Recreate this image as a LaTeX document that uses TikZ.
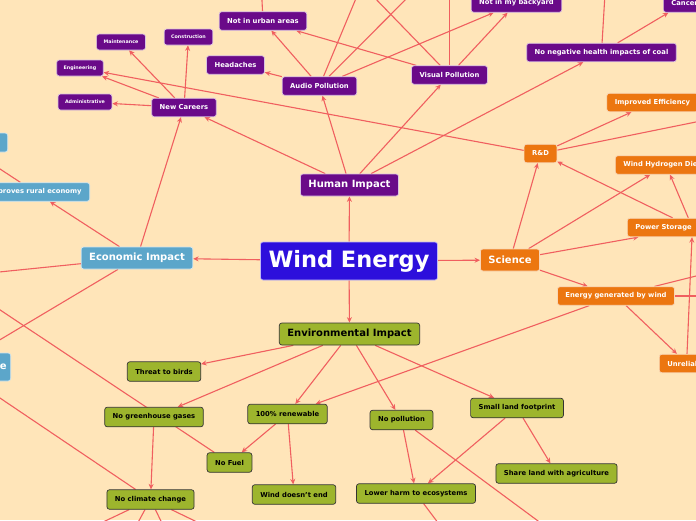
\documentclass[tikz,border=0pt]{standalone}
\usepackage{fontspec}
\setmainfont{DejaVu Sans}
\usetikzlibrary{arrows.meta,calc}
\pgfdeclarelayer{edges}
\pgfsetlayers{edges,main}
\definecolor{bgc}{RGB}{255,229,185}
\definecolor{linec}{RGB}{240,95,95}
\definecolor{purp}{RGB}{106,10,137}
\definecolor{rootc}{RGB}{45,15,220}
\definecolor{econc}{RGB}{92,166,202}
\definecolor{orac}{RGB}{236,118,16}
\definecolor{grnc}{RGB}{157,181,45}
\tikzset{
  box/.style={rounded corners=2.5pt, inner xsep=8pt, inner ysep=0pt, text=white, align=center, line width=0.7pt},
  root/.style={box, fill=rootc, draw=white!70!rootc, minimum height=38pt, font=\fontsize{22.5}{24}\selectfont\bfseries},
  lone/.style={box, minimum height=22pt, font=\fontsize{10}{12}\selectfont\bfseries},
  ltwo/.style={box, minimum height=18.5pt, font=\fontsize{6.8}{8}\selectfont\bfseries},
  lthree/.style={box, minimum height=16pt, inner xsep=7pt, font=\fontsize{4.8}{6}\selectfont\bfseries},
  pp/.style={fill=purp, draw=white!75!purp},
  bb/.style={fill=econc, draw=white!70!econc},
  oo/.style={fill=orac, draw=white!70!orac},
  gg/.style={fill=grnc, draw=black!80, text=black, minimum height=19.5pt},
  conn/.style={draw=linec, line width=1.1pt, -{Stealth[length=5.5pt,width=5pt]}},
  plain/.style={draw=linec, line width=1.1pt},
}
\begin{document}
\begin{tikzpicture}[x=1pt,y=-1pt]
\useasboundingbox (0,0) rectangle (696,520);
% root and level 1
\node[root] (we) at (349,261) {Wind Energy};
\node[lone,pp] (human) at (349.5,185) {Human Impact};
\node[lone,bb] (econ) at (137,258) {Economic Impact};
\node[lone,oo] (sci) at (510,260) {Science};
\node[lone,gg,minimum height=22pt] (env) at (349.5,334) {Environmental Impact};
% human branch
\node[ltwo,pp] (audio) at (319.5,86) {Audio Pollution};
\node[ltwo,pp] (visual) at (449.5,75) {Visual Pollution};
\node[ltwo,pp] (head) at (235.5,65) {Headaches};
\node[ltwo,pp] (urban) at (263,21) {Not in urban areas};
\node[ltwo,pp] (nimby) at (516.5,3) {Not in my backyard};
\node[ltwo,pp] (noneg) at (601.5,52.5) {No negative health impacts of coal};
\node[ltwo,pp,anchor=west] (cancer) at (663,3) {Cancer};
\node[ltwo,pp] (careers) at (184,107.5) {New Careers};
\node[lthree,pp] (maint) at (121,42) {Maintenance};
\node[lthree,pp] (constr) at (188.5,37) {Construction};
\node[lthree,pp] (engin) at (80,68) {Engineering};
\node[lthree,pp] (admin) at (85,102) {Administrative};
% economic branch
\node[ltwo,bb,anchor=east] (rural) at (90,192) {Improves rural economy};
\node[ltwo,bb,anchor=east,minimum width=96pt,minimum height=19pt] (tlbox) at (8,142.5) {};
\node[lone,bb,anchor=east,minimum height=28pt,text width=60pt,inner xsep=4pt,align=right] (lbox) at (11,367) {e};
% science branch
\node[ltwo,oo] (rd) at (540.5,153.5) {R\&D};
\node[ltwo,oo] (impeff) at (652.5,102.5) {Improved Efficiency};
\node[ltwo,oo,anchor=west] (hydro) at (615,165) {Wind Hydrogen Diesel};
\node[ltwo,oo,anchor=west,text width=114pt,align=left] (power) at (627,227.5) {Power Storage};
\node[ltwo,oo] (energy) at (616,296) {Energy generated by wind};
\node[ltwo,oo,anchor=west] (unrel) at (659,363.5) {Unreliable};
% environmental branch
\node[ltwo,gg] (birds) at (164,371.5) {Threat to birds};
\node[ltwo,gg] (noghg) at (154,417) {No greenhouse gases};
\node[ltwo,gg] (renew) at (287.5,414) {100\% renewable};
\node[ltwo,gg] (nopol) at (401.5,420) {No pollution};
\node[ltwo,gg] (small) at (517,408) {Small land footprint};
\node[ltwo,gg] (nofuel) at (229.5,462.5) {No Fuel};
\node[ltwo,gg] (climate) at (150.5,499.5) {No climate change};
\node[ltwo,gg] (windend) at (294,494.5) {Wind doesn't end};
\node[ltwo,gg] (lower) at (416,493.5) {Lower harm to ecosystems};
\node[ltwo,gg] (share) at (556.5,473.5) {Share land with agriculture};
% off-picture ends
\coordinate (offA1) at (372,-40);
\coordinate (offA2) at (445,-40);
\coordinate (offV1) at (338,-40);
\coordinate (offV2) at (449.5,-40);
\coordinate (offU) at (260,-40);
\coordinate (offN) at (607,-40);
\coordinate (offR) at (760,109);
\coordinate (offE1) at (-60,278);
\coordinate (offE2) at (-60,375.5);
\coordinate (offF) at (-60,270);
\coordinate (offC) at (-60,357.6);
\coordinate (offP) at (580,552);
\coordinate (offL) at (460,552);
\coordinate (offC1) at (44,550);
\coordinate (offC2) at (123,550);
\coordinate (offC3) at (175,550);
\coordinate (offC4) at (255,550);
\coordinate (offER1) at (760,260);
\coordinate (offER2) at (760,296);
\begin{pgfonlayer}{edges}
\fill[bgc] (0,0) rectangle (696,520);
\draw[conn] (we) -- (human);
\draw[conn] (we) -- (econ);
\draw[conn] (we) -- (sci);
\draw[conn] (we) -- (env);
\draw[conn] (human) -- (audio);
\draw[conn] (human) -- (visual);
\draw[conn] (human) -- (noneg);
\draw[conn] (human) -- (careers);
\draw[conn] (audio) -- (head);
\draw[conn] (audio) -- (urban);
\draw[conn] (audio) -- (nimby);
\draw[conn] (audio) -- (offA1);
\draw[conn] (audio) -- (offA2);
\draw[conn] (visual) -- (urban);
\draw[conn] (visual) -- (nimby);
\draw[conn] (visual) -- (offV1);
\draw[conn] (visual) -- (offV2);
\draw[conn] (urban) -- (offU);
\draw[conn] (noneg) -- (cancer);
\draw[conn] (noneg) -- (offN);
\draw[conn] (careers) -- (maint);
\draw[conn] (careers) -- (constr);
\draw[conn] (careers) -- (engin);
\draw[conn] (careers) -- (admin);
\draw[conn] (rd) -- (engin);
\draw[conn] (rd) -- (impeff);
\draw[conn] (rd) -- (offR);
\draw[conn] (econ) -- (rural);
\draw[conn] (econ) -- (careers);
\draw[conn] (econ) -- (offE1);
\draw[conn] (econ) -- (offE2);
\draw[conn] (rural) -- (tlbox);
\draw[conn] (sci) -- (rd);
\draw[conn] (sci) -- (hydro);
\draw[conn] (sci) -- (power);
\draw[conn] (sci) -- (energy);
\draw[conn] (power) -- (hydro);
\draw[conn] (power) -- (rd);
\draw[conn] ($(unrel.north west)+(28,0)$) -- ($(power.south west)+(65,0)$);
\draw[conn] (energy) -- (unrel);
\draw[conn] (energy) -- (renew);
\draw[conn] (energy) -- (offER1);
\draw[conn] (energy) -- (offER2);
\draw[conn] (env) -- (birds);
\draw[conn] (env) -- (noghg);
\draw[conn] (env) -- (renew);
\draw[conn] (env) -- (nopol);
\draw[conn] (env) -- (small);
\draw[conn] (renew) -- (nofuel);
\draw[conn] (renew) -- (windend);
\draw[conn] (noghg) -- (climate);
\draw[conn] (nopol) -- (lower);
\draw[conn] (nopol) -- (offP);
\draw[conn] (small) -- (lower);
\draw[conn] (small) -- (share);
\draw[conn] (lower) -- (offL);
\draw[conn] (nofuel) -- (offF);
\draw[conn] (climate) -- (offC);
\draw[conn] (climate) -- (offC1);
\draw[conn] (climate) -- (offC2);
\draw[conn] (climate) -- (offC3);
\draw[conn] (climate) -- (offC4);
\end{pgfonlayer}
\end{tikzpicture}
\end{document}
